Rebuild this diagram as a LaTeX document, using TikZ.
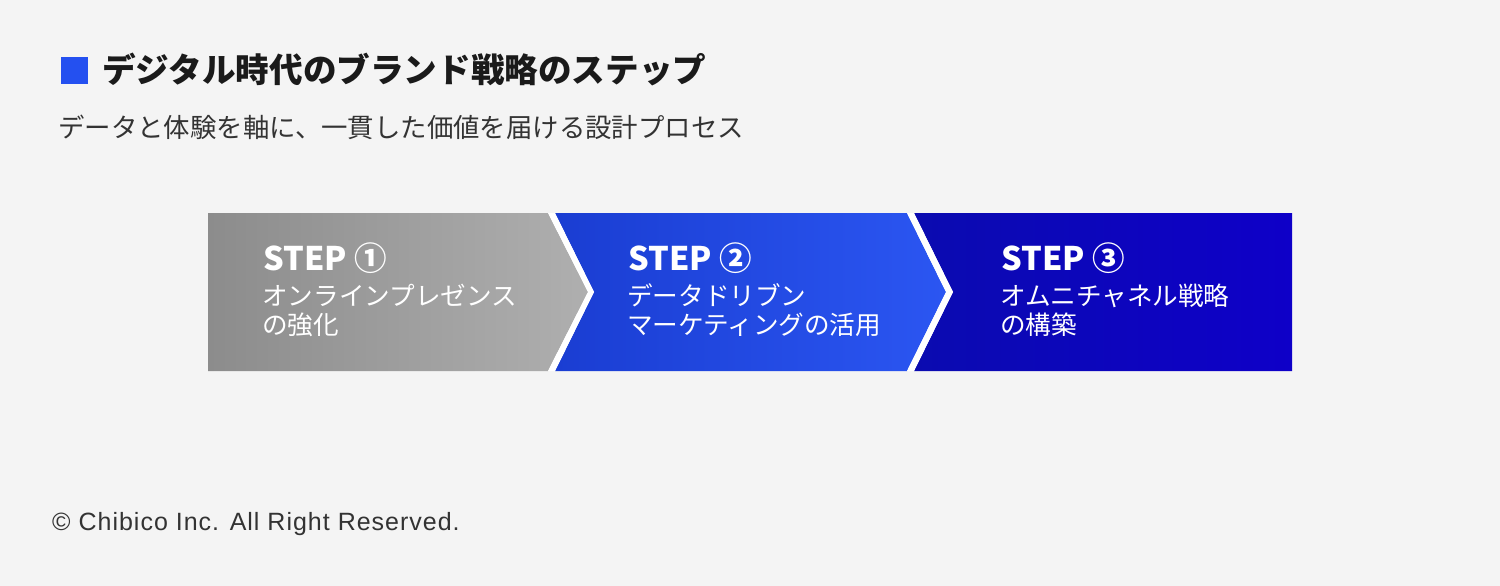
\documentclass[tikz,border=0pt]{standalone}
\usepackage{fontspec}
\setmainfont{Noto Sans CJK JP}
\newfontfamily\latinfont{Liberation Sans}
\definecolor{PageBack}{HTML}{F4F4F4}
\definecolor{TitleBlue}{HTML}{2450F0}
\definecolor{TitleText}{HTML}{1A1A1A}
\definecolor{SubText}{HTML}{333333}
\definecolor{StepOneLeft}{HTML}{8C8C8C}
\definecolor{StepOneRight}{HTML}{AFAFAF}
\definecolor{StepTwoLeft}{HTML}{1A3DD2}
\definecolor{StepTwoRight}{HTML}{2B56F2}
\definecolor{StepThreeLeft}{HTML}{0B0BB0}
\definecolor{StepThreeRight}{HTML}{0E00C8}

\begin{document}
\begin{tikzpicture}[x = 1pt, y = -1pt,
    steptitle/.style = {text = white, inner sep = 0pt, anchor = base west,
        font = \fontsize{32.5}{40}\selectfont\bfseries},
    stepbody/.style = {text = white, inner sep = 0pt, anchor = base west,
        font = \fontsize{25.6}{30}\selectfont}]

\fill[PageBack] (0, 0) rectangle (1500, 586);
\useasboundingbox (0, 0) rectangle (1500, 586);

% heading
\fill[TitleBlue] (61, 57) rectangle (88, 84);
\node[inner sep = 0pt, anchor = base west, text = TitleText,
    font = \fontsize{33.6}{40}\selectfont\bfseries] (title) at (102, 82) {デジタル時代のブランド戦略のステップ};
\node[inner sep = 0pt, anchor = base west, text = SubText,
    font = \fontsize{26.4}{32}\selectfont] (subtitle) at (58, 137) {データと体験を軸に、一貫した価値を届ける設計プロセス};

% step one
\coordinate (A1) at (208, 213);
\coordinate (B1) at (548, 213);
\coordinate (C1) at (588, 292);
\coordinate (D1) at (548, 371);
\coordinate (E1) at (208, 371);
\path[left color = StepOneLeft, right color = StepOneRight]
    (A1) -- (B1) -- (C1) -- (D1) -- (E1) -- cycle;

% step two
\coordinate (A2) at (555, 213);
\coordinate (B2) at (907, 213);
\coordinate (C2) at (946, 292);
\coordinate (D2) at (907, 371);
\coordinate (E2) at (555, 371);
\coordinate (F2) at (594, 292);
\path[left color = StepTwoLeft, right color = StepTwoRight]
    (A2) -- (B2) -- (C2) -- (D2) -- (E2) -- (F2) -- cycle;

% step three
\coordinate (A3) at (914, 213);
\coordinate (B3) at (1292, 213);
\coordinate (C3) at (1292, 371);
\coordinate (D3) at (914, 371);
\coordinate (E3) at (953, 292);
\path[left color = StepThreeLeft, right color = StepThreeRight]
    (A3) -- (B3) -- (C3) -- (D3) -- (E3) -- cycle;

% white gaps
\fill[white] (B1) -- (A2) -- (F2) -- (E2) -- (D1) -- (C1) -- cycle;
\fill[white] (B2) -- (A3) -- (E3) -- (D3) -- (D2) -- (C2) -- cycle;

\node[steptitle] (one title) at (263, 270) {STEP ①};
\node[stepbody] (one line1) at (262, 305) {オンラインプレゼンス};
\node[stepbody] (one line2) at (262, 334) {の強化};

\node[steptitle] (two title) at (628, 270) {STEP ②};
\node[stepbody] (two line1) at (627, 305) {データドリブン};
\node[stepbody] (two line2) at (627, 334) {マーケティングの活用};

\node[steptitle] (three title) at (1001, 270) {STEP ③};
\node[stepbody] (three line1) at (1000, 305) {オムニチャネル戦略};
\node[stepbody] (three line2) at (1000, 334) {の構築};

% footer
\node[inner sep = 0pt, anchor = base west, text = SubText,
    font = \latinfont\fontsize{25}{30}\selectfont\addfontfeature{LetterSpace = 4}] (footer) at (52, 530) {© Chibico Inc. All Right Reserved.};

\end{tikzpicture}
\end{document}
